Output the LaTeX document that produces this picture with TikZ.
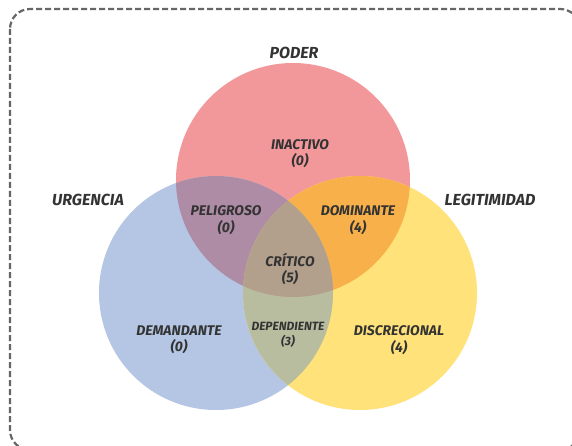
\documentclass[tikz,border=0pt]{standalone}
\usepackage{fontspec}
\setmainfont{Fira Sans}
\begin{document}
\begin{tikzpicture}[x=1pt,y=-1pt,
  lbl/.style={font=\fontsize{14}{16.5}\selectfont\bfseries\itshape, text=txt, align=center, inner sep=0pt},
  head/.style={font=\fontsize{16}{18}\selectfont\bfseries\itshape, text=txt, inner sep=0pt},
  small/.style={font=\fontsize{12}{15.5}\selectfont\bfseries\itshape, text=txt, align=center, inner sep=0pt}]
\definecolor{txt}{HTML}{333333}
\definecolor{cR}{HTML}{F2989B}
\definecolor{cB}{HTML}{B4C6E3}
\definecolor{cY}{HTML}{FFE27A}
\definecolor{cRB}{HTML}{AF8CA6}
\definecolor{cRY}{HTML}{F7B04A}
\definecolor{cBY}{HTML}{B9BDA0}
\definecolor{cRBY}{HTML}{B2A08C}
\definecolor{bord}{HTML}{666666}
\useasboundingbox (0,0) rectangle (572,446);
\clip (0,0) rectangle (572,446);
\fill[white] (0,0) rectangle (572,446);
\draw[bord, line width=2.2pt, dash pattern=on 6pt off 3pt, rounded corners=20pt] (10,9) rectangle (580,450);
% circles
\coordinate (R) at (293,180);
\coordinate (B) at (216,293);
\coordinate (Y) at (360,293);
\fill[cR] (R) circle (117);
\fill[cB] (B) circle (117);
\fill[cY] (Y) circle (117);
\begin{scope}
  \clip (R) circle (117);
  \fill[cRB] (B) circle (117);
  \fill[cRY] (Y) circle (117);
\end{scope}
\begin{scope}
  \clip (B) circle (117);
  \fill[cBY] (Y) circle (117);
  \clip (Y) circle (117);
  \fill[cRBY] (R) circle (117);
\end{scope}
% headings
\node[head] (poder) at (294,53) {PODER};
\node[head] (urg) at (88,200) {URGENCIA};
\node[head] (leg) at (490,200) {LEGITIMIDAD};
% regions
\node[lbl] (inact) at (300,153.5) {INACTIVO\\(0)};
\node[lbl] (pel) at (226,220) {PELIGROSO\\(0)};
\node[lbl] (dom) at (358,220) {DOMINANTE\\(4)};
\node[lbl] (crit) at (290,269) {CRÍTICO\\(5)};
\node[lbl] (dem) at (179,340) {DEMANDANTE\\(0)};
\node[small] (dep) at (288,335) {DEPENDIENTE\\(3)};
\node[lbl] (dis) at (399,340) {DISCRECIONAL\\(4)};
\end{tikzpicture}
\end{document}
